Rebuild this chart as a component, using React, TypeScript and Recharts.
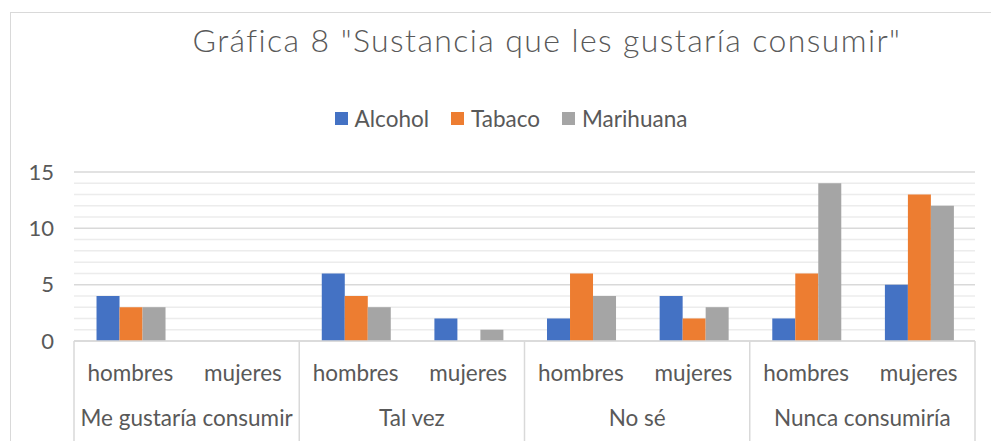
import React from "react";
import { BarChart, Bar, XAxis, YAxis, CartesianGrid } from "recharts";

const groups = ["Me gustaría consumir", "Tal vez", "No sé", "Nunca consumiría"];
const subs = ["hombres", "mujeres"];
const alcohol = [4, 0, 6, 2, 2, 4, 2, 5];
const tabaco = [3, 0, 4, 0, 6, 2, 6, 13];
const marihuana = [3, 0, 3, 1, 4, 3, 14, 12];
const majorTicks = [0, 5, 10, 15];
const minorTicks = [1, 2, 3, 4, 6, 7, 8, 9, 11, 12, 13, 14];
const Y_MAX = 15;
const title = 'Gráfica 8 "Sustancia que les gustaría consumir"';

const series = [
  { key: "alcohol", name: "Alcohol", color: "#4472C4" },
  { key: "tabaco", name: "Tabaco", color: "#ED7D31" },
  { key: "marihuana", name: "Marihuana", color: "#A5A5A5" },
];

const data = groups.flatMap((g, gi) =>
  subs.map((s, si) => {
    const i = gi * subs.length + si;
    return { sub: s, group: g, alcohol: alcohol[i], tabaco: tabaco[i], marihuana: marihuana[i] };
  })
);

const W = 991;
const H = 441;
const PLOT_LEFT = 74;
const PLOT_RIGHT = 975;
const PLOT_TOP = 172;
const AXIS_Y = 341;
const BAND = (PLOT_RIGHT - PLOT_LEFT) / data.length;
const FONT = "Lato, 'Open Sans', sans-serif";
const TEXT = "#595959";
const GRID = "#d9d9d9";

const minorGen = (args: any) => {
  const yAxis = args && args.yAxis;
  const sc = yAxis && yAxis.scale;
  if (typeof sc === "function") return minorTicks.map((t) => sc(t));
  if (sc && typeof sc.map === "function") return minorTicks.map((t) => sc.map(t));
  const off = args.offset;
  return minorTicks.map((t) => off.top + off.height * (1 - t / Y_MAX));
};

const XTick = (props: any) => {
  const { x, y, payload } = props;
  const idx = payload.index;
  const row = data[idx];
  const isFirst = idx % subs.length === 0;
  const isLast = idx === data.length - 1;
  return (
    <g>
      <text x={x} y={y + 40} textAnchor="middle" fill={TEXT} fontSize={22.5} fontFamily={FONT}>
        {row.sub}
      </text>
      {isFirst && (
        <>
          <text x={x - BAND / 2 + BAND} y={y + 85} textAnchor="middle" fill={TEXT} fontSize={22.5} fontFamily={FONT}>
            {row.group}
          </text>
          <line x1={x - BAND / 2} x2={x - BAND / 2} y1={y} y2={y + 100} stroke={GRID} strokeWidth={1.5} />
        </>
      )}
      {isLast && (
        <line x1={x + BAND / 2} x2={x + BAND / 2} y1={y} y2={y + 100} stroke={GRID} strokeWidth={1.5} />
      )}
    </g>
  );
};

export default function App() {
  return (
    <div style={{ position: "absolute", left: 0, top: 0, width: W, height: H, overflow: "hidden", background: "#fff" }}>
      <div
        style={{
          position: "absolute",
          left: 10,
          top: 12,
          width: 1100,
          height: 600,
          border: "1px solid #d9d9d9",
        }}
      />
      <div
        style={{
          position: "absolute",
          left: 0,
          width: 1094,
          top: 20,
          textAlign: "center",
          fontFamily: FONT,
          fontWeight: 300,
          fontSize: 32,
          letterSpacing: 1.4,
          color: TEXT,
          whiteSpace: "nowrap",
        }}
      >
        {title}
      </div>
      <div
        style={{
          position: "absolute",
          left: 0,
          width: 1022,
          top: 105,
          display: "flex",
          justifyContent: "center",
          fontFamily: FONT,
          fontSize: 22.5,
          color: TEXT,
          whiteSpace: "nowrap",
        }}
      >
        {series.map((s) => (
          <div key={s.key} style={{ display: "flex", alignItems: "center", margin: "0 11px" }}>
            <span style={{ display: "inline-block", width: 13, height: 13, background: s.color, marginRight: 7 }} />
            <span>{s.name}</span>
          </div>
        ))}
      </div>
      <div style={{ position: "absolute", left: 0, top: 0 }}>
        <BarChart
          width={W}
          height={H}
          data={data}
          margin={{ top: PLOT_TOP, right: W - PLOT_RIGHT, bottom: 0, left: 0 }}
          barCategoryGap="20%"
          barGap={0}
        >
          <CartesianGrid
            vertical={false}
            stroke="#ececec"
            strokeWidth={1.5}
            horizontalCoordinatesGenerator={minorGen}
          />
          <CartesianGrid vertical={false} stroke={GRID} strokeWidth={1.5} />
          <XAxis
            dataKey="sub"
            interval={0}
            height={H - AXIS_Y}
            tickLine={false}
            tickSize={0}
            tickMargin={0}
            axisLine={{ stroke: GRID, strokeWidth: 1.5 }}
            tick={<XTick />}
          />
          <YAxis
            domain={[0, Y_MAX]}
            ticks={majorTicks}
            width={PLOT_LEFT}
            axisLine={false}
            tickLine={false}
            tickMargin={14}
            tick={{ fill: TEXT, fontSize: 22, fontFamily: FONT }}
          />
          {series.map((s) => (
            <Bar key={s.key} dataKey={s.key} name={s.name} fill={s.color} isAnimationActive={false} />
          ))}
        </BarChart>
      </div>
    </div>
  );
}
